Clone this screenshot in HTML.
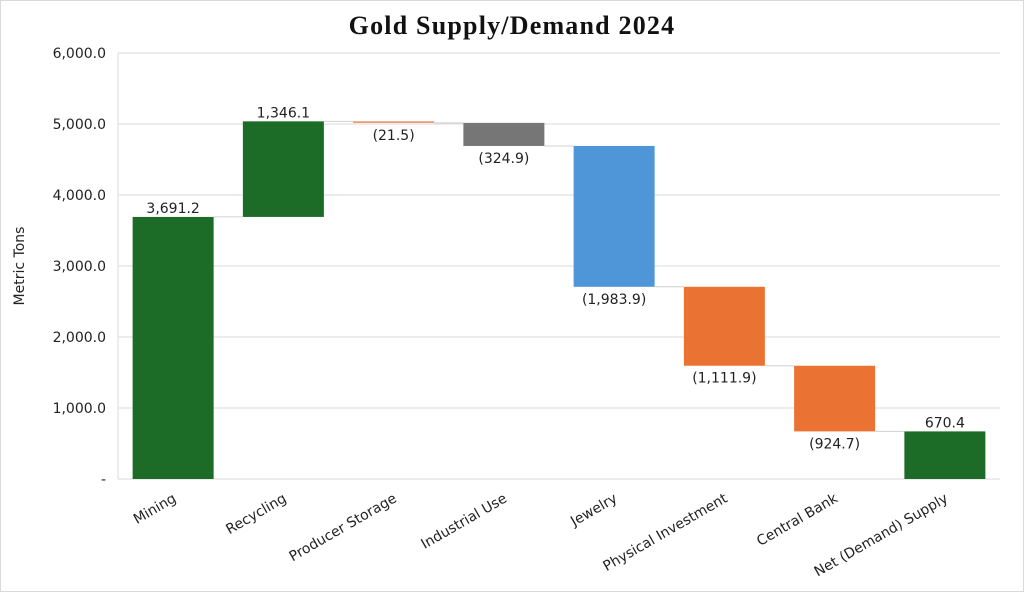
<!DOCTYPE html>
<html><head><meta charset="utf-8"><style>
html,body{margin:0;padding:0;background:#fff}
svg{display:block}
text{font-family:"DejaVu Sans","Liberation Sans",sans-serif;fill:#222}
</style></head><body>
<svg id="c" width="1024" height="592">
<rect x="0.5" y="0.5" width="1023" height="591" fill="#fff" stroke="#d9d9d9"/>
<text x="512" y="34" text-anchor="middle" style="font-family:'Liberation Serif',serif;font-weight:bold;font-size:26px;letter-spacing:1.2px;fill:#111">Gold Supply/Demand 2024</text>
<text transform="translate(24,266) rotate(-90)" text-anchor="middle" font-size="14">Metric Tons</text>
</svg>
<script>
const cats=["Mining","Recycling","Producer Storage","Industrial Use","Jewelry","Physical Investment","Central Bank","Net (Demand) Supply"];
const vals=[3691.2,1346.1,-21.5,-324.9,-1983.9,-1111.9,-924.7,670.4];
const colors=["#1c6b26","#1c6b26","#ec8a5a","#767676","#4f96d8","#ea7233","#ea7233","#1c6b26"];
const yTicks=[0,1000,2000,3000,4000,5000,6000];
const svg=document.getElementById('c');
const NS="http://www.w3.org/2000/svg";
const L=118,R=1000,T=53,B=479,yMax=6000;
const y=v=>B-(v/yMax)*(B-T);
const bw=(R-L)/cats.length;
const xc=i=>L+bw*(i+0.5);
function mk(t,a){const e=document.createElementNS(NS,t);for(const k in a)e.setAttribute(k,a[k]);svg.appendChild(e);return e;}
const fmt=v=>Math.abs(v).toLocaleString('en-US',{minimumFractionDigits:1,maximumFractionDigits:1});
yTicks.forEach(t=>{
  const g=mk('line',{x1:L,x2:R,y1:y(t),y2:y(t),stroke:'#d9d9d9','stroke-width':1});
  
  
  const lb=mk('text',{x:106,y:y(t)+5,'text-anchor':'end','font-size':14});
  lb.textContent=t===0?'-':fmt(t);
  
  
});
const ax=mk('line',{x1:L,x2:L,y1:T,y2:B,stroke:'#d9d9d9'});


let run=0;const w=81;
cats.forEach((c,i)=>{
  let a,b;
  if(i===cats.length-1){a=0;b=vals[i];}else{a=run;b=run+vals[i];run=b;}
  const top=Math.max(a,b),bot=Math.min(a,b);
  const h=Math.max(y(bot)-y(top),1.5);
  const r=mk('rect',{x:xc(i)-w/2,y:y(top),width:w,height:h,fill:colors[i]});
  
  
  if(i<cats.length-1){
    const cl=mk('line',{x1:xc(i)+w/2,x2:xc(i+1)-w/2,y1:y(b),y2:y(b),stroke:'#d0d0d0','stroke-width':1});
    
    
  }
  const neg=vals[i]<0;
  const vl=mk('text',{x:xc(i),y:neg?y(bot)+17:y(top)-4,'text-anchor':'middle','font-size':14});
  vl.textContent=neg?'('+fmt(vals[i])+')':fmt(vals[i]);
  
  
  const cl2=mk('text',{transform:`translate(${xc(i)+4},${501}) rotate(-30)`,'text-anchor':'end','font-size':14});
  cl2.textContent=c;
  
  
});
</script>
</body></html>
